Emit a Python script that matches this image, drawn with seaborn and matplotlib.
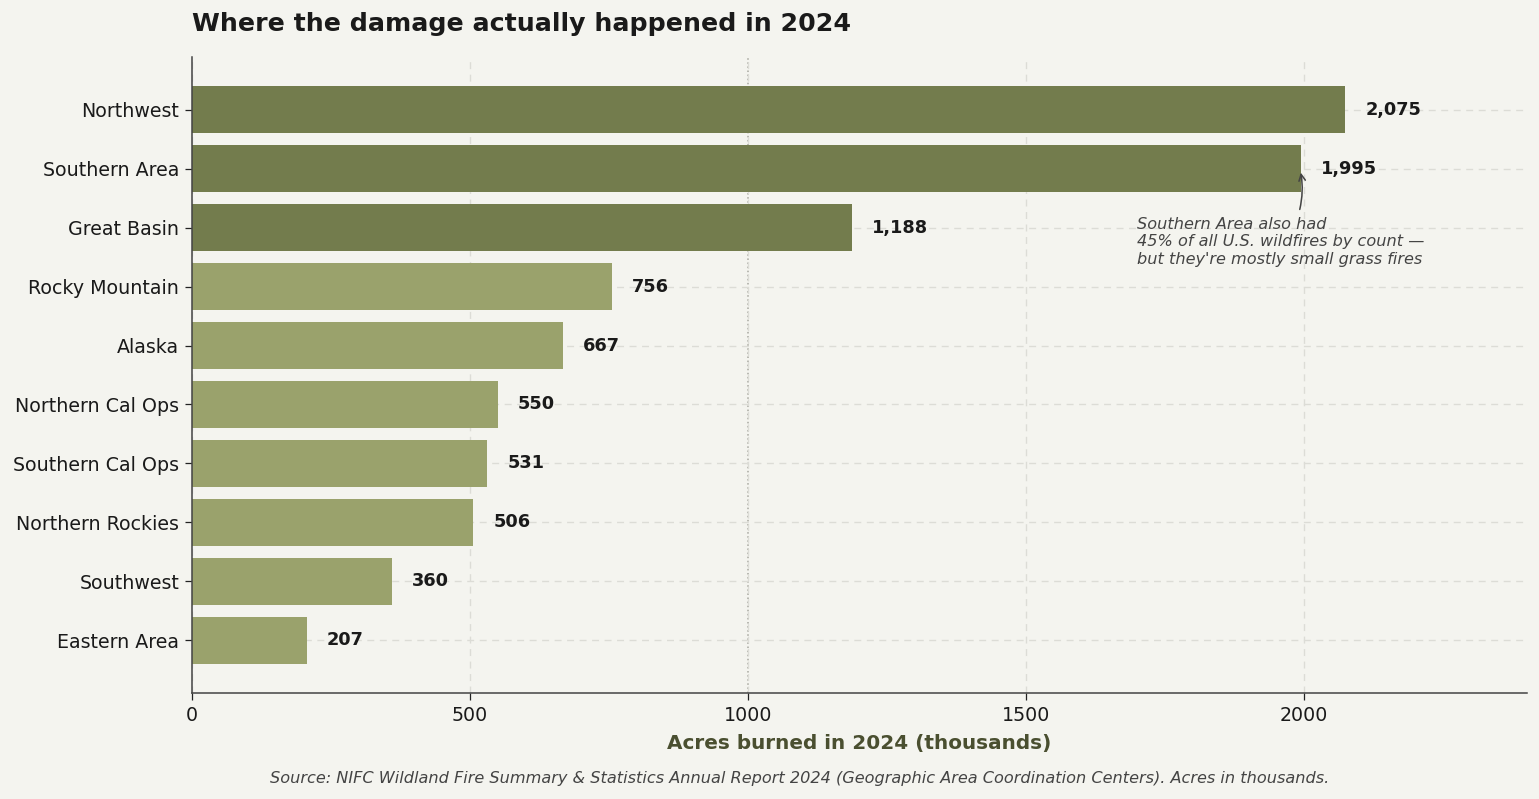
import matplotlib
matplotlib.use("Agg")
import matplotlib.pyplot as plt
import seaborn as sns
import pandas as pd

regions = ["Northwest", "Southern Area", "Great Basin", "Rocky Mountain", "Alaska",
           "Northern Cal Ops", "Southern Cal Ops", "Northern Rockies", "Southwest", "Eastern Area"]
acres_k = [2075, 1995, 1188, 756, 667, 550, 531, 506, 360, 207]
highlight = [True, True, True, False, False, False, False, False, False, False]

BG = "#F4F4EF"
DARK = "#737C4D"
LIGHT = "#9AA26C"
S = 1.11

sns.set_theme(style="white")
plt.rcParams['font.family'] = ['DejaVu Sans']

df = pd.DataFrame({"region": regions, "acres": acres_k,
                   "grp": ["top" if h else "rest" for h in highlight]})

fig = plt.figure(figsize=(15.39, 7.99), dpi=100, facecolor=BG)
ax = fig.add_axes([192/1539, 1 - 693/799, (1527-192)/1539, (693-57)/799])
ax.set_facecolor(BG)

sns.barplot(data=df, y="region", x="acres", hue="grp", palette={"top": DARK, "rest": LIGHT},
            dodge=False, legend=False, width=0.8, ax=ax, saturation=1, linewidth=0)

ax.set_xlim(0, 2402)
ax.set_ylim(len(regions) - 1 + 0.89, -0.89)
ax.set_xticks([0, 500, 1000, 1500, 2000])
ax.grid(True, axis="both", linestyle=(0, (5, 4)), color="#DCDCD6", linewidth=0.9 * S)
ax.set_axisbelow(True)
ax.axvline(1000, color="#A8A8A0", linestyle=":", linewidth=1.0 * S, zorder=0.5)

for s in ["top", "right"]:
    ax.spines[s].set_visible(False)
for s in ["left", "bottom"]:
    ax.spines[s].set_color("#444444")
    ax.spines[s].set_linewidth(1.0 * S)

ax.tick_params(axis="both", labelsize=13.7, colors="#222222", length=5,
               width=0.9, pad=4.2)
ax.tick_params(axis="both", which="both", left=True, bottom=True)
for t in ax.get_xticklabels() + ax.get_yticklabels():
    t.set_color("#1a1a1a")

for i, v in enumerate(acres_k):
    ax.text(v + 36, i, f"{v:,}", va="center", ha="left", fontsize=11.5 * S,
            fontweight="bold", color="#1a1a1a")

ax.set_ylabel("")
ax.set_xlabel("Acres burned in 2024 (thousands)", fontsize=13 * S, fontweight="bold",
              color="#4A4F30", labelpad=6 * S)

ax.annotate("Southern Area also had\n45% of all U.S. wildfires by count —\nbut they're mostly small grass fires",
            xy=(1995, 1.07), xytext=(1700, 2.24), ha="left", va="center",
            fontsize=10.5 * S, fontstyle="italic", color="#444444",
            arrowprops=dict(arrowstyle="->", color="#444444", lw=1.0 * S,
                            connectionstyle="arc3,rad=0.12", relpos=(0.56, 1.0),
                            shrinkA=3, shrinkB=0))

fig.text(192/1539, 1 - 24/799, "Where the damage actually happened in 2024", ha="left", va="center",
         fontsize=18.2, fontweight="bold", color="#1a1a1a")
fig.text(800/1539, 1 - 779/799,
         "Source: NIFC Wildland Fire Summary & Statistics Annual Report 2024 (Geographic Area Coordination Centers). Acres in thousands.",
         ha="center", va="center", fontsize=10.5 * S, fontstyle="italic", color="#444444")

fig.savefig("out.png", dpi=100, facecolor=BG)
